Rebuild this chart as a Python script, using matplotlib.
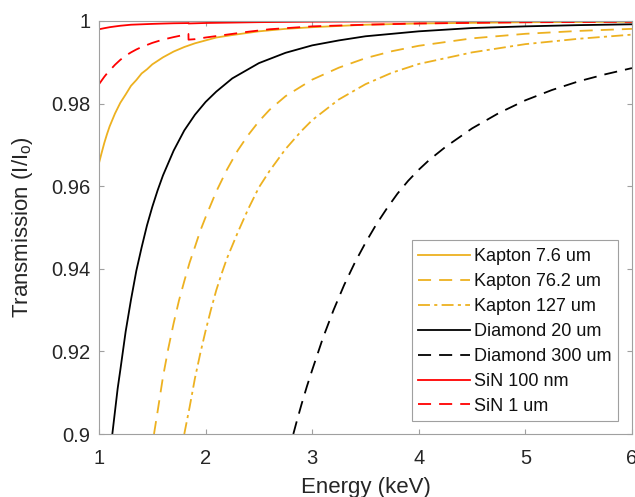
import matplotlib
matplotlib.use("Agg")
import matplotlib.pyplot as plt
from matplotlib.patches import Rectangle

plt.rcParams['font.family'] = ['Liberation Sans', 'DejaVu Sans']
plt.rcParams['mathtext.default'] = 'regular'
plt.rcParams['lines.scale_dashes'] = False

# Transmission curves, energy in keV
kapton_7p6_E = [1.0, 1.025, 1.05, 1.075, 1.1, 1.15, 1.2, 1.25, 1.3, 1.35, 1.4, 1.45, 1.5, 1.6,
                1.7, 1.8, 1.9, 2.0, 2.1, 2.25, 2.5, 2.75, 3.0, 3.5, 4.0, 5.0, 6.0]
kapton_7p6_T = [0.9656, 0.9681, 0.9705, 0.9726, 0.9745, 0.9776, 0.9802, 0.9822, 0.9843, 0.9857,
                0.9873, 0.9883, 0.9895, 0.9912, 0.9926, 0.9937, 0.9946, 0.9953, 0.9960, 0.9966,
                0.9975, 0.9981, 0.9985, 0.9991, 0.9994, 0.9997, 0.9998]

kapton_76p2_E = [1.516, 1.55, 1.6, 1.65, 1.7, 1.75, 1.8, 1.85, 1.9, 1.95, 2.0, 2.1, 2.2, 2.3,
                 2.4, 2.5, 2.6, 2.75, 3.0, 3.25, 3.5, 3.75, 4.0, 4.5, 5.0, 5.5, 6.0]
kapton_76p2_T = [0.9000, 0.9055, 0.9138, 0.9207, 0.9268, 0.9323, 0.9370, 0.9415, 0.9453, 0.9492,
                 0.9525, 0.9587, 0.9640, 0.9686, 0.9724, 0.9757, 0.9785, 0.9818, 0.9858, 0.9887,
                 0.9910, 0.9927, 0.9940, 0.9958, 0.9969, 0.9976, 0.9981]

kapton_127_E = [1.80, 1.85, 1.9, 1.95, 2.0, 2.05, 2.1, 2.15, 2.2, 2.3, 2.4, 2.5, 2.6, 2.75, 2.9,
                3.0, 3.25, 3.5, 3.75, 4.0, 4.5, 5.0, 5.5, 6.0]
kapton_127_T = [0.9000, 0.9065, 0.9135, 0.9195, 0.9250, 0.9301, 0.9348, 0.9388, 0.9425, 0.9487,
                0.9545, 0.9597, 0.9637, 0.9690, 0.9734, 0.9760, 0.9810, 0.9847, 0.9875, 0.9896,
                0.9924, 0.9944, 0.9957, 0.9967]

diamond_20_E = [1.125, 1.15, 1.175, 1.2, 1.25, 1.3, 1.35, 1.4, 1.45, 1.5, 1.55, 1.6, 1.7, 1.8,
                1.9, 2.0, 2.1, 2.25, 2.5, 2.75, 3.0, 3.25, 3.5, 3.75, 4.0, 4.5, 5.0, 5.5, 6.0]
diamond_20_T = [0.9000, 0.9055, 0.9110, 0.9155, 0.9248, 0.9325, 0.9395, 0.9452, 0.9505, 0.9550,
                0.9590, 0.9626, 0.9686, 0.9735, 0.9773, 0.9804, 0.9829, 0.9861, 0.9898, 0.9923,
                0.9941, 0.9953, 0.9963, 0.9969, 0.9975, 0.9983, 0.9987, 0.9990, 0.9992]

diamond_300_E = [2.823, 2.85, 2.9, 2.95, 3.0, 3.1, 3.2, 3.3, 3.4, 3.5, 3.6, 3.7, 3.8, 3.9, 4.0,
                 4.1, 4.25, 4.5, 4.75, 5.0, 5.25, 5.5, 5.75, 6.0]
diamond_300_T = [0.9000, 0.9026, 0.9072, 0.9115, 0.9155, 0.9232, 0.9300, 0.9361, 0.9415, 0.9463,
                 0.9507, 0.9546, 0.9582, 0.9613, 0.9640, 0.9664, 0.9695, 0.9740, 0.9777, 0.9808,
                 0.9833, 0.9854, 0.9871, 0.9886]

# Si K-edge at 1.839 keV
sin_100nm_E = [1.0, 1.05, 1.1, 1.15, 1.2, 1.3, 1.4, 1.5, 1.6, 1.7, 1.839, 1.840, 2.0, 2.5, 3.0,
               4.0, 5.0, 6.0]
sin_100nm_T = [0.9980, 0.99826, 0.9985, 0.99868, 0.99885, 0.9991, 0.9992, 0.9993, 0.99938,
               0.99945, 0.9995, 0.9994, 0.99952, 0.99972, 0.99983, 0.99993, 0.99996, 0.99998]

sin_1um_E = [1.0, 1.025, 1.05, 1.075, 1.1, 1.15, 1.2, 1.25, 1.3, 1.35, 1.4, 1.5, 1.6, 1.7, 1.8,
             1.839, 1.840, 1.9, 2.0, 2.2, 2.4, 2.6, 3.0, 3.5, 4.0, 5.0, 6.0]
sin_1um_T = [0.9847, 0.9856, 0.9865, 0.9873, 0.9880, 0.9894, 0.9906, 0.9916, 0.9924, 0.9931,
             0.9937, 0.9947, 0.9955, 0.9961, 0.99665, 0.99686, 0.99548, 0.9956, 0.9960, 0.9967,
             0.9974, 0.9980, 0.9987, 0.9991, 0.9994, 0.9997, 0.9998]

x_ticks = [1, 2, 3, 4, 5, 6]
y_ticks = [0.9, 0.92, 0.94, 0.96, 0.98, 1.0]
y_tick_labels = ['0.9', '0.92', '0.94', '0.96', '0.98', '1']

ORANGE = '#EDB120'
RED = '#FF0000'
BLACK = '#000000'
DASH = (0, (9.4, 5.8))
DASHDOT = (0, (8.6, 3.1, 2.2, 3.1))
LW = 1.3

W, H = 635, 497
fig = plt.figure(figsize=(W / 100, H / 100), dpi=100)
ax = fig.add_axes([99 / W, 63 / H, 533 / W, 413 / H])

ax.plot(kapton_7p6_E, kapton_7p6_T, color=ORANGE, lw=LW, label='Kapton 7.6 um')
ax.plot(kapton_76p2_E, kapton_76p2_T, color=ORANGE, lw=LW, ls=DASH, label='Kapton 76.2 um')
ax.plot(kapton_127_E, kapton_127_T, color=ORANGE, lw=LW, ls=DASHDOT, label='Kapton 127 um')
ax.plot(diamond_20_E, diamond_20_T, color=BLACK, lw=LW, label='Diamond 20 um')
ax.plot(diamond_300_E, diamond_300_T, color=BLACK, lw=LW, ls=DASH, label='Diamond 300 um')
ax.plot(sin_100nm_E, sin_100nm_T, color=RED, lw=LW, label='SiN 100 nm')
ax.plot(sin_1um_E, sin_1um_T, color=RED, lw=LW, ls=DASH, label='SiN 1 um')

ax.set_xlim(1, 6)
ax.set_ylim(0.9, 1.0)
ax.set_xticks(x_ticks)
ax.set_xticklabels([str(v) for v in x_ticks])
ax.set_yticks(y_ticks)
ax.set_yticklabels(y_tick_labels)

axis_grey = '#a0a0a0'
for sp in ax.spines.values():
    sp.set_color(axis_grey)
    sp.set_linewidth(0.8)
ax.tick_params(axis='both', which='both', direction='in', length=3.6, width=0.8,
               color=axis_grey, labelcolor='#262626', labelsize=14.5,
               top=True, right=True)
ax.tick_params(axis='x', pad=11)
ax.tick_params(axis='y', pad=6)

ax.set_xlabel('Energy (keV)', fontsize=16, color='#262626')
ax.xaxis.set_label_coords(0.5, -0.104)
ax.set_ylabel('Transmission (I/I$_{o}$)', fontsize=16, color='#262626', va='center')
ax.yaxis.set_label_coords((22 - 99) / 533, 0.5)

# Legend entries, with a plain box drawn behind them
leg = ax.legend(loc='lower right', bbox_to_anchor=(1 - 15.5 / 533, 13.8 / 413),
                borderaxespad=0, fontsize=13.0, frameon=False,
                handlelength=2.88, handletextpad=0.19, borderpad=0.3,
                labelspacing=0.44)
leg.set_zorder(6)
for t in leg.get_texts():
    t.set_color('#111111')

box = Rectangle((411.7 / W, 1 - 421 / H), 206 / W, 181 / H, transform=fig.transFigure,
                facecolor='white', edgecolor=axis_grey, linewidth=0.8, zorder=5,
                clip_on=False)
ax.add_artist(box)

fig.savefig('out.png', dpi=100)
